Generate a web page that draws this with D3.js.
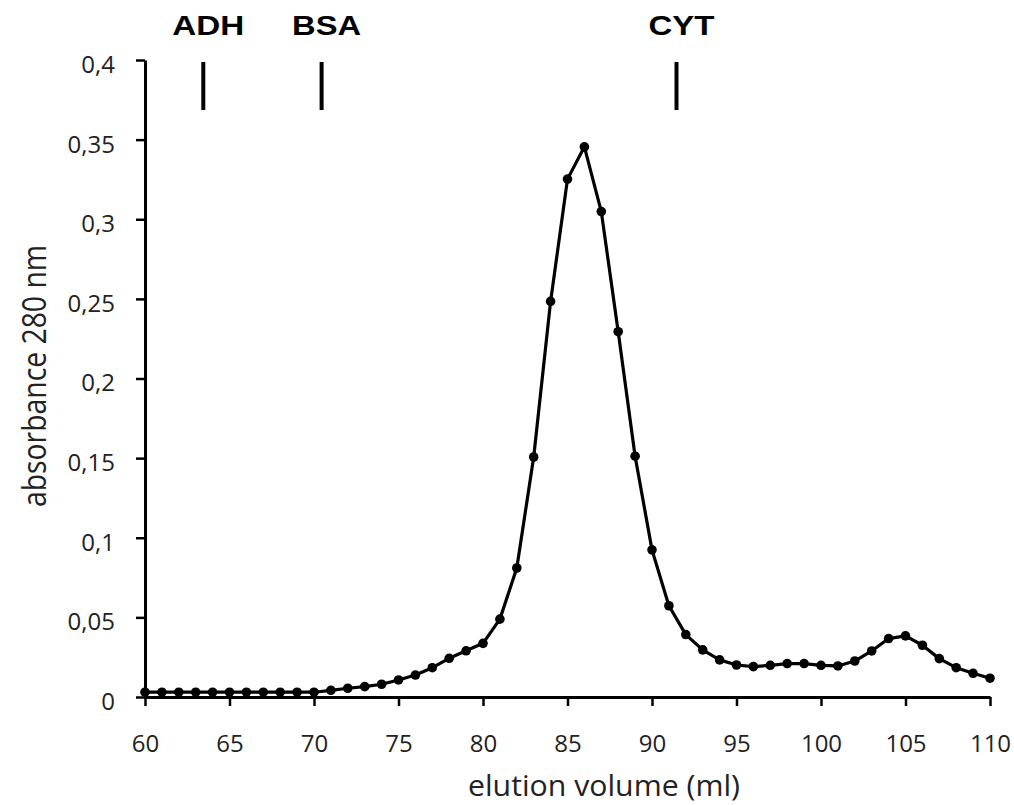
<!DOCTYPE html>
<html><head><meta charset="utf-8">
<script src="https://cdn.jsdelivr.net/npm/d3@7"></script>
<style>body{margin:0;background:#fff}svg{display:block}</style>
</head><body>
<svg id="c" width="1014" height="805"></svg>
<script>
const volumes = d3.range(60, 111, 1);
const absorbance = [
  0.003,0.003,0.003,0.003,0.003,0.003,0.003,0.003,0.003,0.003,
  0.003,0.0042,0.0055,0.0065,0.008,0.0107,0.0138,0.0184,0.0243,0.029,
  0.0337,0.0489,0.081,0.1507,0.2484,0.3252,0.3455,0.3048,0.2294,0.1512,
  0.0924,0.0573,0.0392,0.0296,0.0233,0.0201,0.0191,0.0199,0.021,0.021,
  0.0199,0.0195,0.0226,0.0289,0.0367,0.0384,0.0325,0.0241,0.0184,0.0149,
  0.0118
];
const markerNames = ["ADH","BSA","CYT"];
const markerVolumes = [63.45, 70.45, 91.45];
const xTicks = [60,65,70,75,80,85,90,95,100,105,110];
const yTicks = [0,0.05,0.1,0.15,0.2,0.25,0.3,0.35,0.4];

const svg = d3.select("#c");
const x = d3.scaleLinear().domain([60,110]).range([145,990]);
const y = d3.scaleLinear().domain([0,0.4]).range([697,60]);
const fmt = d => String(d).replace(".", ",");
const tickFont = "'Open Sans', sans-serif";

// y axis
const ya = svg.append("g").attr("transform","translate(145,0)")
  .call(d3.axisLeft(y).tickValues(yTicks).tickFormat(fmt).tickSize(9).tickPadding(21).tickSizeOuter(0));
// x axis
const xa = svg.append("g").attr("transform","translate(0,697)")
  .call(d3.axisBottom(x).tickValues(xTicks).tickSize(9).tickPadding(29).tickSizeOuter(0));
[ya, xa].forEach(g => {
  g.select(".domain").attr("stroke","#000").attr("stroke-width",3);
  g.selectAll(".tick line").attr("stroke","#000").attr("stroke-width",2.5);
  g.selectAll(".tick text").attr("fill","#222").style("font-family",tickFont).style("font-size","24px");
});
ya.selectAll(".tick text").attr("dy","0.52em");

// line
const pts = volumes.map((v,i)=>[v, absorbance[i]]);
svg.append("path").datum(pts)
  .attr("fill","none").attr("stroke","#000").attr("stroke-width",3.2)
  .attr("stroke-linejoin","round")
  .attr("d", d3.line().x(d=>x(d[0])).y(d=>y(d[1])));
svg.append("g").selectAll("circle").data(pts).join("circle")
  .attr("cx",d=>x(d[0])).attr("cy",d=>y(d[1])).attr("r",4.8).attr("fill","#000");

// markers
const labelWidths = [72, 69, 66];
markerVolumes.forEach((mv,i)=>{
  svg.append("line").attr("x1",x(mv)).attr("x2",x(mv)).attr("y1",y(0.4)+2).attr("y2",y(0.4)+50)
    .attr("stroke","#000").attr("stroke-width",4);
  svg.append("text").attr("x",x(mv)+5).attr("y",35).attr("text-anchor","middle")
    .style("font-family","'Liberation Sans', Arial, sans-serif").style("font-weight","bold")
    .style("font-size","28px").attr("fill","#000")
    .attr("textLength",labelWidths[i]).attr("lengthAdjust","spacingAndGlyphs")
    .text(markerNames[i]);
});

// titles
svg.append("text").attr("x",604).attr("y",796).attr("text-anchor","middle")
  .style("font-family",tickFont).style("font-size","29px").attr("fill","#222")
  .attr("textLength",272).attr("lengthAdjust","spacingAndGlyphs")
  .text("elution volume (ml)");
svg.append("text").attr("transform","translate(46,376) rotate(-90)").attr("text-anchor","middle")
  .style("font-family",tickFont).style("font-size","33px").attr("fill","#222")
  .attr("textLength",262).attr("lengthAdjust","spacingAndGlyphs")
  .text("absorbance 280 nm");
</script>
</body></html>
